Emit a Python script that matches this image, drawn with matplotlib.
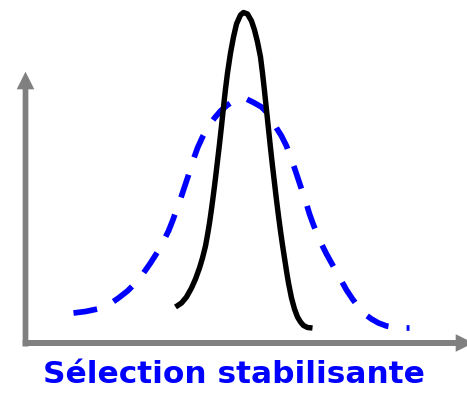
import matplotlib
matplotlib.use("Agg")
import matplotlib.pyplot as plt

# Trait value (x) and relative frequency (y) of the population after selection
narrow_trait = [150, 156, 161, 166, 170, 174, 177, 180, 182, 184, 186, 188, 190, 192,
                194, 196, 198, 200, 202, 205, 208, 211, 215, 218, 222, 226, 229, 232,
                235, 237, 239, 241, 243, 245, 247, 249, 251, 253, 255, 257, 259, 261,
                263, 266, 269, 272, 275, 278, 282, 287]
narrow_freq = [36, 40, 46, 55, 64, 75, 85, 97, 108, 120, 134, 149, 165, 182,
               199, 217, 236, 254, 270, 290, 306, 319, 328, 330.5, 329, 322, 313, 301,
               286, 270, 252, 233, 214, 195, 177, 160, 143, 127, 112, 98, 85, 72,
               60, 45, 34, 26, 21, 17.5, 15.5, 15]

# Trait value (x) and relative frequency (y) of the initial population
wide_trait = [48, 60, 72, 83, 93, 102, 110, 118, 125, 132, 138, 143, 147, 151, 155,
              159, 163, 167, 172, 177, 183, 189, 195, 202, 209, 215, 221, 229, 236,
              241, 246, 251, 256, 261, 265, 269, 273, 277, 281, 284, 288, 292, 296,
              301, 306, 311, 316, 321, 327, 333, 339, 346, 353, 361, 370, 379, 384]
wide_freq = [30, 31.5, 34, 38, 45, 52, 60, 70, 80, 91, 102, 112, 122, 133, 144,
             156, 168, 181, 195, 206, 217, 225, 232, 238, 242.5, 244.5, 244, 240, 236,
             231, 224, 215, 207, 197, 186, 175, 163, 151, 139, 129, 118, 108, 99,
             89, 80, 71, 62, 53, 44, 36, 29, 24, 20, 17, 15.5, 15, 15]

title = "Sélection stabilisante"

W, H, DPI = 467, 395, 100
fig = plt.figure(figsize=(W / DPI, H / DPI), dpi=DPI)
ax = fig.add_axes([0, 0, 1, 1])
ax.set_xlim(-25.5, 441.5)
ax.set_ylim(-52, 343)
ax.axis("off")

axis_grey = "#808080"

# vertical axis arrow (shaft + head)
sw, hw, hl = 2.85, 8.8, 17.6
y_bot, y_head = -3.5, 253.7
ax.fill([-sw, sw, sw, hw, 0, -hw, -sw],
        [y_bot, y_bot, y_head, y_head, y_head + hl, y_head, y_head],
        color=axis_grey, lw=0, clip_on=False, zorder=1)

# horizontal axis arrow (shaft + head)
x_left, x_head = -2.8, 430.2
ax.fill([x_left, x_head, x_head, x_head + hl, x_head, x_head, x_left],
        [-3, -3, -hw, 0, hw, 3, 3],
        color=axis_grey, lw=0, clip_on=True, zorder=1)

# initial distribution (dashed blue)
ax.plot(wide_trait, wide_freq, color="#0000FF", lw=4.1, linestyle=(0, (4.2, 3.2)),
        dash_capstyle="butt", dash_joinstyle="round", zorder=2)

# distribution after stabilising selection (solid black)
ax.plot(narrow_trait, narrow_freq, color="black", lw=3.9,
        solid_capstyle="butt", solid_joinstyle="round", zorder=3)

ax.text(208, -40, title, ha="center", va="baseline", color="#0000FF",
        fontsize=22.5, fontweight="bold", family=["DejaVu Sans"])

fig.savefig("out.png", dpi=DPI)
